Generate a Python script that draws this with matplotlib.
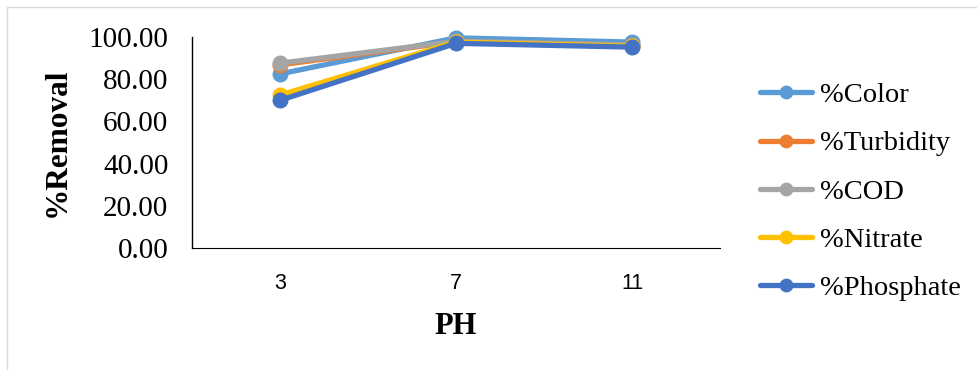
import matplotlib.pyplot as plt
from matplotlib.patches import Rectangle

ph_levels = ["3", "7", "11"]
color_removal = [82.5, 99.6, 97.6]
turbidity_removal = [86.8, 97.8, 96.0]
cod_removal = [87.6, 98.0, 96.2]
nitrate_removal = [72.5, 97.6, 95.6]
phosphate_removal = [70.0, 97.0, 95.2]

series = [
    ("%Color", color_removal, "#5B9BD5"),
    ("%Turbidity", turbidity_removal, "#ED7D31"),
    ("%COD", cod_removal, "#A5A5A5"),
    ("%Nitrate", nitrate_removal, "#FFC000"),
    ("%Phosphate", phosphate_removal, "#4472C4"),
]

fig = plt.figure(figsize=(9.78, 3.7), dpi=100)
ax = fig.add_axes([0.1963, 0.3297, 0.5399, 0.5703])

x = range(len(ph_levels))
for label, vals, col in series:
    ax.plot(x, vals, color=col, linewidth=3.8, marker="o", markersize=10.5,
            label=label, clip_on=False, solid_capstyle="round")

ax.set_xlim(-0.5, len(ph_levels) - 0.5)
ax.set_ylim(0, 100)
ax.set_yticks([0, 20, 40, 60, 80, 100])
ax.set_yticklabels([f"{v:.2f}" for v in [0, 20, 40, 60, 80, 100]],
                   fontfamily="Liberation Serif", fontsize=21)
ax.set_xticks(list(x))
ax.set_xticklabels(ph_levels, fontfamily="Liberation Sans", fontsize=15.5)
ax.tick_params(axis="both", length=0)
ax.tick_params(axis="y", pad=17)
ax.tick_params(axis="x", pad=18)

for side in ["top", "right"]:
    ax.spines[side].set_visible(False)
ax.spines["left"].set_color("#000000")
ax.spines["bottom"].set_color("#000000")
ax.spines["left"].set_linewidth(1.0)
ax.spines["bottom"].set_linewidth(0.8)

ax.set_xlabel("PH", fontfamily="Liberation Serif", fontweight="bold", fontsize=22, labelpad=13)
ax.set_ylabel("%Removal", fontfamily="Liberation Serif", fontweight="bold", fontsize=22.5, labelpad=12)

handles, labels = ax.get_legend_handles_labels()
fig.legend(handles, labels, loc="center left", bbox_to_anchor=(0.777, 0.482),
           frameon=False, prop={"family": "Liberation Serif", "size": 20.5},
           borderpad=0, borderaxespad=0, handlelength=1.83, handletextpad=0.28,
           labelspacing=0.78, markerscale=0.85)

# thin grey frame around the whole chart area
fig.patches.append(Rectangle((0.007, -0.02), 1.1, 1.0, transform=fig.transFigure,
                             fill=False, edgecolor="#D9D9D9", linewidth=1.0))

fig.savefig("out.png", dpi=100)
